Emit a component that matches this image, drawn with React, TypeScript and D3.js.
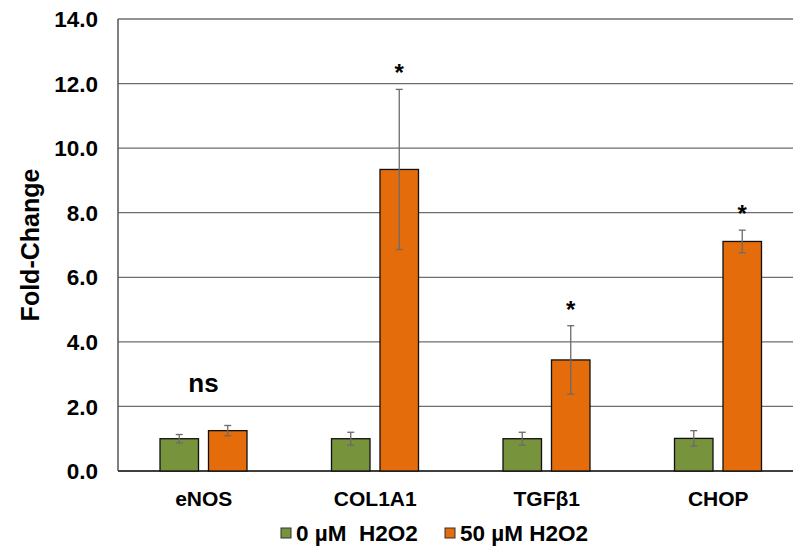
import React from 'react'
import * as d3 from 'd3'

// categories and series
const genes = ['eNOS', 'COL1A1', 'TGFβ1', 'CHOP']
const seriesNames = ['0 µM  H2O2', '50 µM H2O2']
const seriesColors = ['#77933C', '#E46C0A']

// means and error (sd) per gene
const control = [1.0, 1.0, 1.0, 1.01]
const controlErr = [0.13, 0.2, 0.2, 0.24]
const treated = [1.25, 9.34, 3.44, 7.11]
const treatedErr = [0.16, 2.48, 1.06, 0.35]
const marks = ['ns', '*', '*', '*']

const yTicks = [0, 2, 4, 6, 8, 10, 12, 14]

const W = 793
const H = 552
const font = '"Liberation Sans", Arial, sans-serif'

export default function App() {
  const left = 118
  const top = 19
  const bottom = 471

  const x0 = d3.scaleBand<string>().domain(genes).range([left, left + 4 * 171.5]).paddingInner(0)
  const x1 = d3.scaleBand<number>().domain([0, 1]).range([42, 129]).paddingInner(0.206)
  const y = d3.scaleLinear().domain([0, 14]).range([bottom, top])

  const rows = genes.map((g, i) => ({
    gene: g,
    vals: [
      { s: 0, v: control[i], e: controlErr[i] },
      { s: 1, v: treated[i], e: treatedErr[i] },
    ],
    mark: marks[i],
  }))

  return (
    <svg width={W} height={H} style={{ position: 'absolute', left: 0, top: 0 }} fontFamily={font}>
      <rect width={W} height={H} fill="#fff" />
      {/* gridlines */}
      {yTicks.map(t => (
        <line key={t} x1={left} x2={W} y1={y(t)} y2={y(t)}
          stroke={t === 0 ? '#000' : '#6e6e6e'} strokeWidth={t === 0 ? 1.5 : 1.3} />
      ))}
      {/* y tick labels */}
      {yTicks.map(t => (
        <text key={'l' + t} x={98} y={y(t)} dy="0.36em" textAnchor="end"
          fontSize={22.5} fontWeight="bold">{d3.format('.1f')(t)}</text>
      ))}
      <line x1={left} x2={left} y1={top} y2={bottom} stroke="#555" strokeWidth={1.5} />
      <text transform={`translate(30,${(top + bottom) / 2}) rotate(-90)`} textAnchor="middle"
        dy="0.36em" fontSize={25} fontWeight="bold">Fold-Change</text>

      {rows.map(r => {
        const gx = x0(r.gene) as number
        const bw = x1.bandwidth()
        return (
          <g key={r.gene} transform={`translate(${gx},0)`}>
            {r.vals.map(d => {
              const bx = x1(d.s) as number
              const cx = bx + bw / 2
              return (
                <g key={d.s}>
                  <rect x={bx} y={y(d.v)} width={bw} height={bottom - y(d.v)}
                    fill={seriesColors[d.s]} stroke="#111" strokeWidth={1.3} />
                  <line x1={cx} x2={cx} y1={y(d.v + d.e)} y2={y(d.v - d.e)} stroke="#6b6b6b" strokeWidth={1.3} />
                  <line x1={cx - 3.5} x2={cx + 3.5} y1={y(d.v + d.e)} y2={y(d.v + d.e)} stroke="#6b6b6b" strokeWidth={1.3} />
                  <line x1={cx - 3.5} x2={cx + 3.5} y1={y(d.v - d.e)} y2={y(d.v - d.e)} stroke="#6b6b6b" strokeWidth={1.3} />
                </g>
              )
            })}
            {r.mark === 'ns' ? (
              <text x={(x1(0) as number) + bw + 5} y={383} dy="0.36em" textAnchor="middle"
                fontSize={26} fontWeight="bold">ns</text>
            ) : (
              <text x={(x1(1) as number) + bw / 2} y={y(r.vals[1].v + r.vals[1].e) - 8}
                textAnchor="middle" fontSize={24} fontWeight="bold">*</text>
            )}
            <text x={x0.bandwidth() / 2} y={498} textAnchor="middle" dy="0.36em"
              fontSize={21} fontWeight="bold">{r.gene}</text>
          </g>
        )
      })}

      {/* legend */}
      {seriesNames.map((s, i) => {
        const lx = i === 0 ? 281 : 445
        return (
          <g key={s} transform={`translate(${lx},533)`}>
            <rect x={0} y={-5} width={10} height={10} fill={seriesColors[i]} stroke="#333" strokeWidth={1} />
            <text x={15} y={0} dy="0.36em" fontSize={22.5} fontWeight="bold" style={{ whiteSpace: 'pre' }}>{s}</text>
          </g>
        )
      })}
    </svg>
  )
}
